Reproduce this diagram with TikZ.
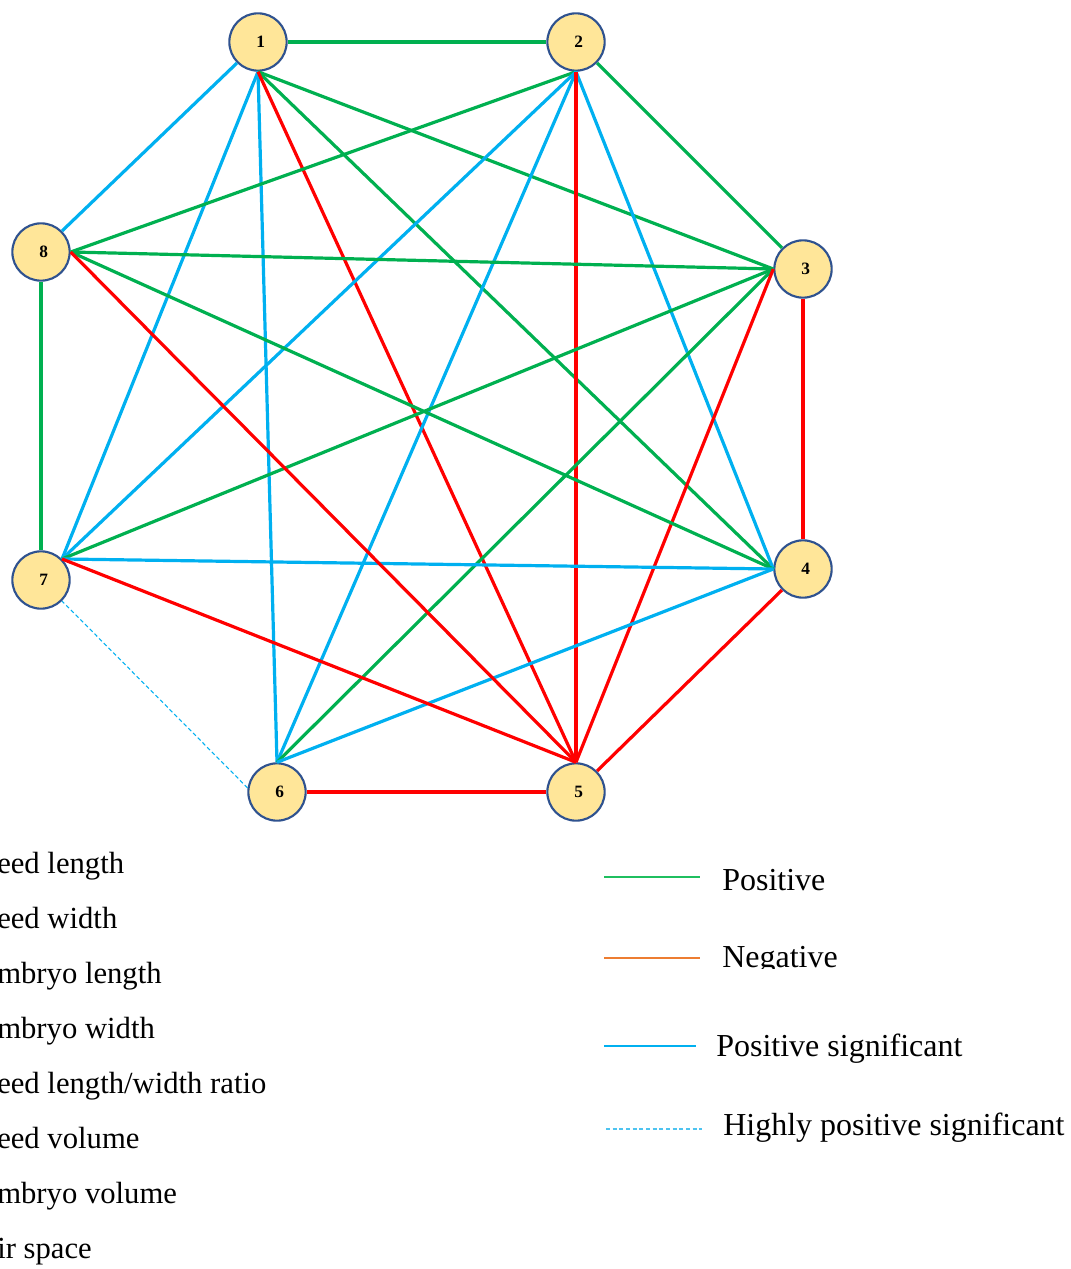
\documentclass[tikz,border=0pt]{standalone}
\usepackage{fontspec}
\setmainfont{Liberation Serif}
\definecolor{cgreen}{HTML}{00B050}
\definecolor{cred}{HTML}{FF0000}
\definecolor{cblue}{HTML}{00B0F0}
\definecolor{corange}{HTML}{ED7D31}
\definecolor{nodefill}{HTML}{FFE699}
\definecolor{nodeline}{HTML}{2F528F}
\definecolor{lgreen}{HTML}{1FBF5F}
\definecolor{ldash}{HTML}{4DC3F0}
\tikzset{
  vnode/.style={circle, draw=nodeline, line width=1.6pt, fill=nodefill, minimum size=43pt, inner sep=0pt, font=\fontsize{13}{15}\selectfont\bfseries},
  posedge/.style={draw=cgreen, line width=2.4pt},
  negedge/.style={draw=cred, line width=2.4pt},
  sigedge/.style={draw=cblue, line width=2.4pt},
  hsigedge/.style={draw=cblue, line width=0.8pt, dash pattern=on 3pt off 2pt},
  legtext/.style={anchor=base west, inner sep=0pt, font=\fontsize{24}{28}\selectfont},
  lefttext/.style={anchor=base west, inner sep=0pt, font=\fontsize{23}{27}\selectfont},
  legline/.style={line width=1.1pt}
}
\begin{document}
\begin{tikzpicture}[x=0.75pt,y=-0.75pt]
\useasboundingbox (0,0) rectangle (1070,1269);
% nodes
\node[vnode] (n1) at (258,42) {\hspace*{4pt}1};
\node[vnode] (n2) at (576,42) {\hspace*{4pt}2};
\node[vnode] (n3) at (803,269) {\hspace*{4pt}3};
\node[vnode] (n4) at (803,569) {\hspace*{4pt}4};
\node[vnode] (n5) at (576,792) {\hspace*{4pt}5};
\node[vnode] (n6) at (277,792) {\hspace*{4pt}6};
\node[vnode] (n7) at (41,580) {\hspace*{4pt}7};
\node[vnode] (n8) at (41,252) {\hspace*{4pt}8};
% edges
\draw[posedge] (n1.east) -- (n2.west);
\draw[sigedge] (n1.225) -- (n8.45);
\draw[sigedge] (n1.south) -- (n7.45);
\draw[sigedge] (n1.south) -- (n6.north);
\draw[posedge] (n1.south) -- (n4.west);
\draw[posedge] (n1.south) -- (n3.west);
\draw[negedge] (n1.south) -- (n5.north);
\draw[posedge] (n2.south) -- (n8.east);
\draw[sigedge] (n2.south) -- (n7.45);
\draw[sigedge] (n2.south) -- (n6.north);
\draw[sigedge] (n2.south) -- (n4.west);
\draw[negedge] (n2.south) -- (n5.north);
\draw[posedge] (n2.-45) -- (n3.135);
\draw[posedge] (n3.west) -- (n8.east);
\draw[posedge] (n3.west) -- (n7.45);
\draw[posedge] (n3.west) -- (n6.north);
\draw[negedge] (n3.west) -- (n5.north);
\draw[negedge] (n3.south) -- (n4.north);
\draw[posedge] (n4.west) -- (n8.east);
\draw[sigedge] (n4.west) -- (n7.45);
\draw[sigedge] (n4.west) -- (n6.north);
\draw[negedge] (n4.225) -- (n5.45);
\draw[negedge] (n5.north) -- (n8.east);
\draw[negedge] (n5.north) -- (n7.45);
\draw[negedge] (n5.west) -- (n6.east);
\draw[hsigedge] (n6.172) -- (n7.-45);
\draw[posedge] (n7.north) -- (n8.south);
% left legend
\node[lefttext] (t1) at (-3,873) {eed length};
\node[lefttext] (t2) at (-3,928) {eed width};
\node[lefttext] (t3) at (-3,983) {mbryo length};
\node[lefttext] (t4) at (-3,1038) {mbryo width};
\node[lefttext] (t5) at (-3,1093) {eed length/width ratio};
\node[lefttext] (t6) at (-3,1148) {eed volume};
\node[lefttext] (t7) at (-3,1203) {mbryo volume};
\node[lefttext] (t8) at (-3,1258) {ir space};
% right legend
\coordinate (g1) at (604,877); \coordinate (g2) at (700,877);
\draw[legline, draw=lgreen] (g1) -- (g2);
\node[legtext] (lp) at (722,890) {Positive};
\coordinate (o1) at (604,958); \coordinate (o2) at (700,958);
\draw[legline, draw=corange] (o1) -- (o2);
\begin{scope}
\clip (700,930) rectangle (900,968);
\node[legtext] (ln) at (722,967) {Negative};
\end{scope}
\coordinate (b1) at (604,1046); \coordinate (b2) at (696,1046);
\draw[legline, draw=cblue] (b1) -- (b2);
\node[legtext] (ls) at (716,1056) {Positive significant};
\coordinate (d1) at (606,1129); \coordinate (d2) at (702,1129);
\draw[line width=1pt, draw=ldash, dash pattern=on 3pt off 2pt] (d1) -- (d2);
\node[legtext] (lh) at (723,1135) {Highly positive significant};
\end{tikzpicture}
\end{document}
